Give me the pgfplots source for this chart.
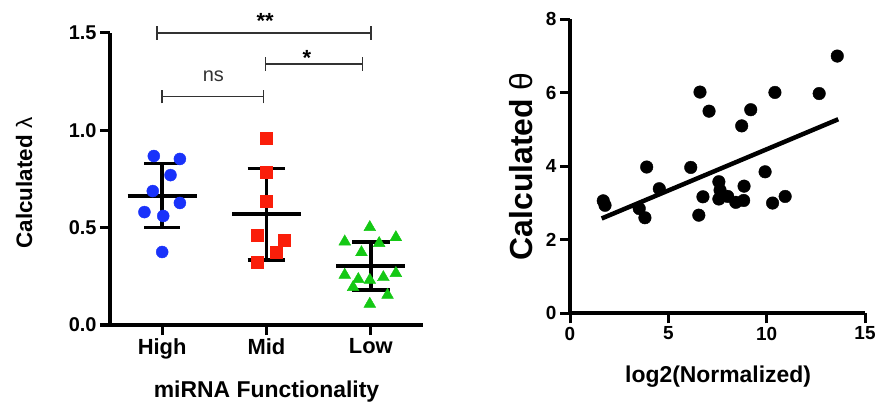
\documentclass[border=0pt]{standalone}
\usepackage{fontspec}
\setmainfont{Liberation Sans}
\usepackage{pgfplots}
\pgfplotsset{compat=1.18}

\definecolor{ptblue}{RGB}{25,50,250}
\definecolor{ptred}{RGB}{250,30,10}
\definecolor{ptgreen}{RGB}{20,200,20}
\definecolor{sigline}{RGB}{50,50,50}

% Prism-like look: thick left/bottom axes, outside ticks, bold sans labels
\pgfplotsset{prism/.style={
    scale only axis,
    axis lines=left,
    axis line style={-, line width=4bp, black},
    tick align=outside,
    major tick length=10bp,
    tick style={line width=3bp, black},
    minor tick num=0,
    /pgf/number format/assume math mode=true,
    tick label style={font=\fontsize{20}{24}\selectfont\bfseries},
    clip=false,
}}

\begin{document}
\begin{tikzpicture}
\useasboundingbox (0,0) rectangle (879bp,403bp);

% ---------- left: lambda by miRNA functionality ----------
\begin{axis}[prism,
    at={(110bp,78bp)}, anchor=south west,
    width=313bp, height=292bp,
    xmin=0.5, xmax=3.5, ymin=0, ymax=1.5,
    xtick={1,2,3}, xticklabels={High,Mid,Low},
    x tick label style={font=\fontsize{22}{26}\selectfont\bfseries},
    ytick={0,0.5,1,1.5},
    yticklabel style={/pgf/number format/.cd, fixed, fixed zerofill, precision=1},
    xlabel={miRNA Functionality},
    xlabel style={font=\fontsize{23}{27}\selectfont\bfseries,
        at={(axis description cs:0.5,-0.247)}, anchor=base},
    ylabel={Calculated {\mdseries λ}},
    ylabel style={font=\fontsize{22.5}{26}\selectfont\bfseries,
        at={(axis description cs:-0.249,0.486)}, anchor=base, rotate=0},
]
% High
\addplot[only marks, mark=*, mark size=6bp, mark options={draw=ptblue, fill=ptblue}]
  coordinates {(0.92,0.868)(1.17,0.853)(1.08,0.770)(0.91,0.688)(1.17,0.627)(0.83,0.580)(1.01,0.560)(1.00,0.375)};
% Mid
\addplot[only marks, mark=square*, mark size=6bp, mark options={draw=ptred, fill=ptred}]
  coordinates {(2.00,0.962)(2.00,0.787)(2.00,0.638)(1.91,0.462)(2.17,0.437)(2.09,0.373)(1.91,0.325)};
% Low
\addplot[only marks, mark=triangle*, mark size=6.8bp, mark options={draw=ptgreen, fill=ptgreen}]
  coordinates {(2.99,0.502)(2.75,0.428)(3.24,0.450)(3.08,0.420)(2.91,0.373)(2.75,0.257)(2.88,0.235)
               (2.99,0.231)(3.12,0.245)(3.24,0.266)(2.83,0.194)(3.16,0.154)(2.99,0.108)};

% mean +/- SD
\addplot[black, line width=4bp] coordinates {(0.67,0.664)(1.33,0.664)};
\addplot[black, line width=3.5bp] coordinates {(1,0.502)(1,0.830)};
\addplot[black, line width=3.5bp] coordinates {(0.83,0.830)(1.17,0.830)};
\addplot[black, line width=3.5bp] coordinates {(0.83,0.502)(1.17,0.502)};

\addplot[black, line width=4bp] coordinates {(1.67,0.569)(2.33,0.569)};
\addplot[black, line width=3.5bp] coordinates {(2,0.334)(2,0.803)};
\addplot[black, line width=3.5bp] coordinates {(1.82,0.803)(2.18,0.803)};
\addplot[black, line width=3.5bp] coordinates {(1.82,0.334)(2.18,0.334)};

\addplot[black, line width=4bp] coordinates {(2.67,0.305)(3.33,0.305)};
\addplot[black, line width=3.5bp] coordinates {(3,0.180)(3,0.426)};
\addplot[black, line width=3.5bp] coordinates {(2.82,0.426)(3.18,0.426)};
\addplot[black, line width=3.5bp] coordinates {(2.82,0.180)(3.18,0.180)};

% significance brackets
\draw[sigline, line width=1.5bp] (axis cs:0.95,1.465) -- (axis cs:0.95,1.535)
    (axis cs:0.95,1.5) -- (axis cs:3.0,1.5) (axis cs:3.0,1.465) -- (axis cs:3.0,1.535);
\draw[sigline, line width=1.5bp] (axis cs:1.99,1.305) -- (axis cs:1.99,1.375)
    (axis cs:1.99,1.34) -- (axis cs:2.92,1.34) (axis cs:2.92,1.305) -- (axis cs:2.92,1.375);
\draw[sigline, line width=1.5bp] (axis cs:1.0,1.138) -- (axis cs:1.0,1.208)
    (axis cs:1.0,1.173) -- (axis cs:1.97,1.173) (axis cs:1.97,1.138) -- (axis cs:1.97,1.208);
\node[anchor=base, font=\fontsize{22}{26}\selectfont\bfseries] at (axis cs:1.986,1.525) {**};
\node[anchor=base, font=\fontsize{22}{26}\selectfont\bfseries] at (axis cs:2.386,1.335) {*};
\node[anchor=base, font=\fontsize{20}{24}\selectfont, sigline] at (axis cs:1.49,1.249) {ns};
\end{axis}

% ---------- right: theta vs log2(Normalized) ----------
\begin{axis}[prism,
    at={(570bp,89.7bp)}, anchor=south west,
    width=295bp, height=294bp,
    xmin=0, xmax=15, ymin=0, ymax=8,
    xtick={0,5,10,15}, ytick={0,2,4,6,8},
    tick label style={font=\fontsize{19}{23}\selectfont\bfseries},
    xlabel={log2(Normalized)},
    xlabel style={font=\fontsize{23}{27}\selectfont\bfseries,
        at={(axis description cs:0.502,-0.236)}, anchor=base},
    ylabel={Calculated {\mdseries θ}},
    ylabel style={font=\fontsize{32}{36}\selectfont\bfseries,
        at={(axis description cs:-0.128,0.5)}, anchor=base, rotate=0},
]
\addplot[only marks, mark=*, mark size=6.3bp, mark options={draw=black, fill=black}]
  coordinates {(1.69,3.06)(1.78,2.94)(3.52,2.85)(3.81,2.60)(3.90,3.98)(4.54,3.39)(6.14,3.97)
               (6.61,6.02)(7.07,5.50)(6.76,3.17)(6.55,2.67)(7.57,3.58)(7.63,3.35)(7.57,3.11)
               (8.02,3.18)(8.43,3.02)(8.85,3.46)(8.83,3.07)(8.73,5.10)(9.19,5.54)(9.92,3.85)
               (10.30,3.00)(10.94,3.18)(10.42,6.01)(12.67,5.98)(13.59,7.00)};
% linear fit
\addplot[black, line width=4.5bp] coordinates {(1.61,2.58)(13.64,5.28)};
\end{axis}
\end{tikzpicture}
\end{document}
